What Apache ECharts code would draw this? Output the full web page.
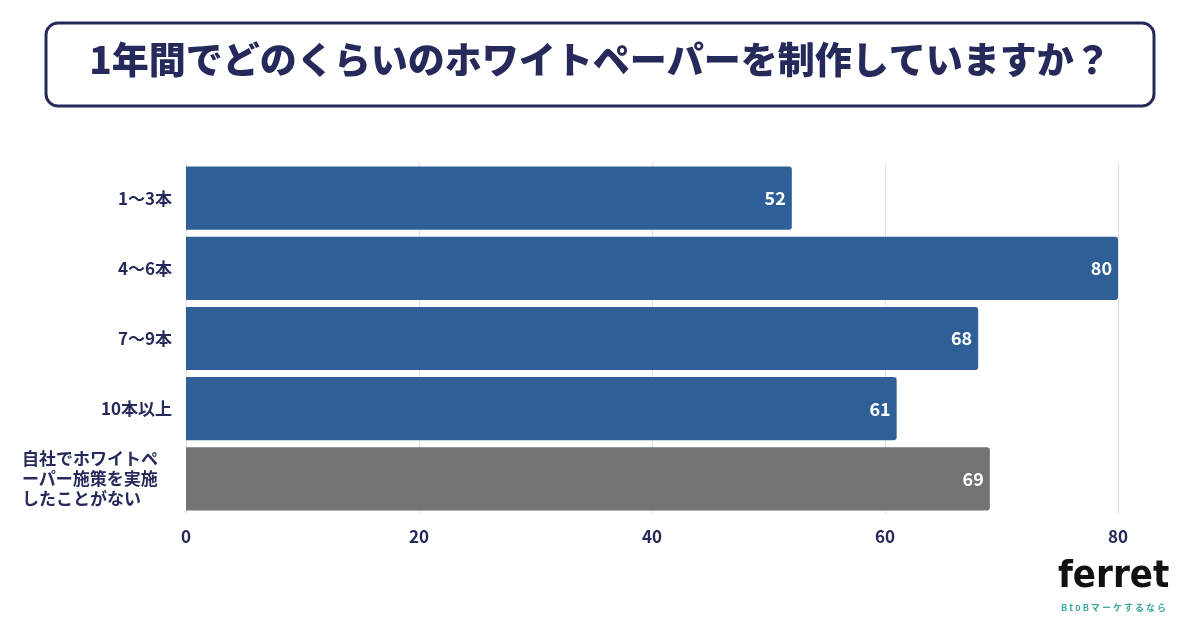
<!DOCTYPE html>
<html><head><meta charset="utf-8">
<script src="https://cdn.jsdelivr.net/npm/echarts@6/dist/echarts.min.js"></script>
<style>html,body{margin:0;padding:0;background:#fff}#c{width:1200px;height:630px}</style>
</head><body><div id="c"></div>
<script>
const title = '1年間でどのくらいのホワイトペーパーを制作していますか？';
const categories = ['1〜3本','4〜6本','7〜9本','10本以上','自社でホワイトペ\nーパー施策を実施\nしたことがない'];
const values = [52,80,68,61,69];
const colors = ['#2e5f96','#2e5f96','#2e5f96','#2e5f96','#737373'];
const xTicks = [0,20,40,60,80];
const navy = '#262a5a';
const font = '"Noto Sans CJK JP","Noto Sans",sans-serif';
const chart = echarts.init(document.getElementById('c'));
chart.setOption({
  animation:false,
  textStyle:{fontFamily:font},
  graphic:[
    {type:'rect',shape:{x:46,y:23,width:1108,height:83,r:12},style:{fill:'#fff',stroke:navy,lineWidth:3}},
    {type:'text',left:'center',top:41,style:{text:title,font:'900 37px '+font,fill:navy}},
    {type:'text',left:1058,top:558,style:{text:'ferret',font:'bold 38px "DejaVu Sans Condensed","DejaVu Sans",sans-serif',fill:'#111'}},
    {type:'text',left:1061,top:603,style:{text:'B t o B マ ー ケ す る な ら',font:'bold 9px '+font,fill:'#3aa99a'}}
  ],
  grid:{left:186,right:82,top:163,bottom:116},
  xAxis:{type:'value',min:0,max:80,interval:20,
    axisLabel:{color:navy,fontWeight:'bold',fontSize:17,margin:14,fontFamily:font},
    splitLine:{lineStyle:{color:'#dde0e8'}},axisLine:{show:false},axisTick:{show:false}},
  yAxis:{type:'category',data:categories,inverse:true,
    axisLine:{show:false},axisTick:{show:false},
    axisLabel:{color:navy,fontWeight:'bold',fontSize:17,margin:14,lineHeight:20,fontFamily:font,
      formatter:(v,i)=> i===4 ? '{l|'+v+'}' : v,
      rich:{l:{align:'left',width:150,color:navy,fontWeight:'bold',fontSize:17,lineHeight:20,fontFamily:font}}}},
  series:[{type:'bar',barCategoryGap:'10%',
    data:values.map((v,i)=>({value:v,itemStyle:{color:colors[i],borderRadius:[0,3,3,0]}})),
    label:{show:true,position:'insideRight',color:'#fff',fontWeight:'bold',fontSize:18,fontFamily:font,offset:[-1,0]}}]
});
</script></body></html>
